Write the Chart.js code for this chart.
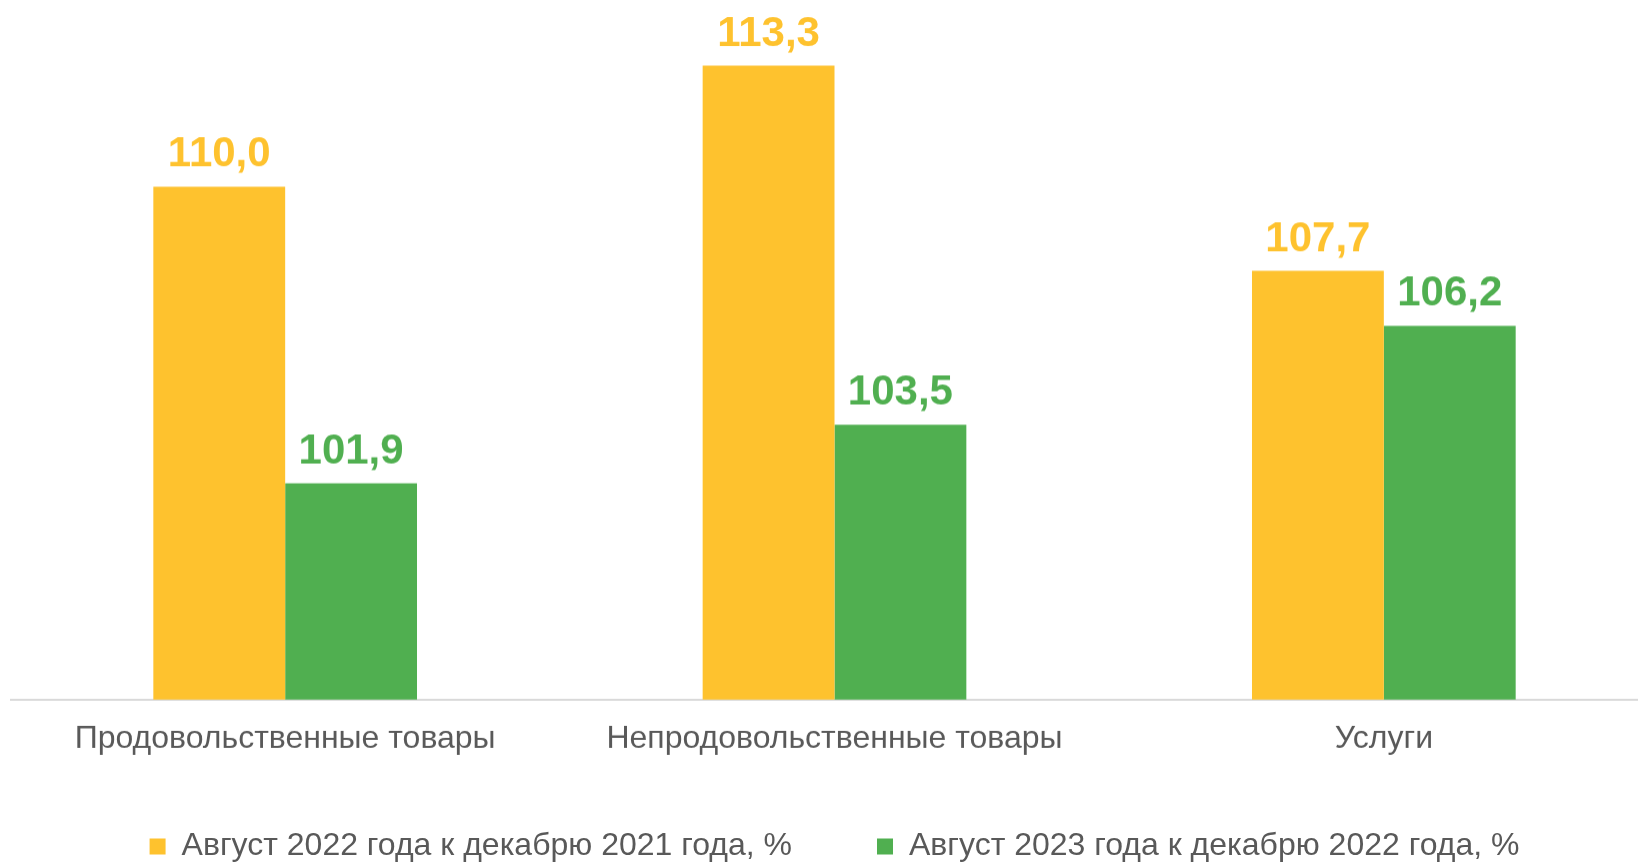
<!DOCTYPE html>
<html>
<head>
<meta charset="utf-8">
<script src="https://cdn.jsdelivr.net/npm/chart.js@4"></script>
<style>
  html, body { margin: 0; padding: 0; background: #ffffff; overflow: hidden; }
  #wrap { position: absolute; left: 0; top: 0; width: 1660px; height: 871.6px; }
</style>
</head>
<body>
<div id="wrap"><canvas id="c"></canvas></div>
<script>
const categories = ['Продовольственные товары', 'Непродовольственные товары', 'Услуги'];
const seriesNames = ['Август 2022 года к декабрю 2021 года, %', 'Август 2023 года к декабрю 2022 года, %'];
const values2022 = [110.0, 113.3, 107.7];
const values2023 = [101.9, 103.5, 106.2];
const yMin = 96;
const yMax = 114;

const FONT = "'Liberation Sans', Arial, sans-serif";
const YELLOW = '#FEC22E';
const GREEN = '#50AF50';
const GRAY = '#595959';

const valueLabels = {
  id: 'valueLabels',
  afterDatasetsDraw(chart) {
    const ctx = chart.ctx;
    ctx.save();
    ctx.font = 'bold 42px ' + FONT;
    ctx.textAlign = 'center';
    ctx.textBaseline = 'alphabetic';
    chart.data.datasets.forEach((ds, di) => {
      const meta = chart.getDatasetMeta(di);
      ctx.fillStyle = ds.backgroundColor;
      meta.data.forEach((bar, i) => {
        const txt = ds.data[i].toFixed(1).replace('.', ',');
        ctx.fillText(txt, bar.x, bar.y - 20);
      });
    });
    ctx.restore();
  }
};

new Chart(document.getElementById('c'), {
  type: 'bar',
  data: {
    labels: categories,
    datasets: [
      { label: seriesNames[0], data: values2022, backgroundColor: YELLOW, borderWidth: 0 },
      { label: seriesNames[1], data: values2023, backgroundColor: GREEN, borderWidth: 0 }
    ]
  },
  options: {
    responsive: true,
    maintainAspectRatio: false,
    devicePixelRatio: 1,
    animation: false,
    datasets: { bar: { categoryPercentage: 0.48, barPercentage: 1.0 } },
    layout: { padding: { left: 10.5, right: 1.5, top: 40, bottom: 0 } },
    scales: {
      x: {
        grid: { display: false, drawTicks: false },
        border: { display: true, color: '#D9D9D9', width: 2 },
        ticks: { color: GRAY, font: { family: FONT, size: 32 }, padding: -58.7, mirror: true, maxRotation: 0, autoSkip: false },
        afterFit: (s) => { s.height = 45.9; }
      },
      y: {
        display: false,
        min: yMin,
        max: yMax
      }
    },
    plugins: {
      tooltip: { enabled: false },
      legend: {
        position: 'bottom',
        labels: {
          color: GRAY,
          font: { family: FONT, size: 32 },
          boxWidth: 16,
          boxHeight: 16,
          padding: 85
        }
      }
    }
  },
  plugins: [valueLabels]
});
</script>
</body>
</html>
